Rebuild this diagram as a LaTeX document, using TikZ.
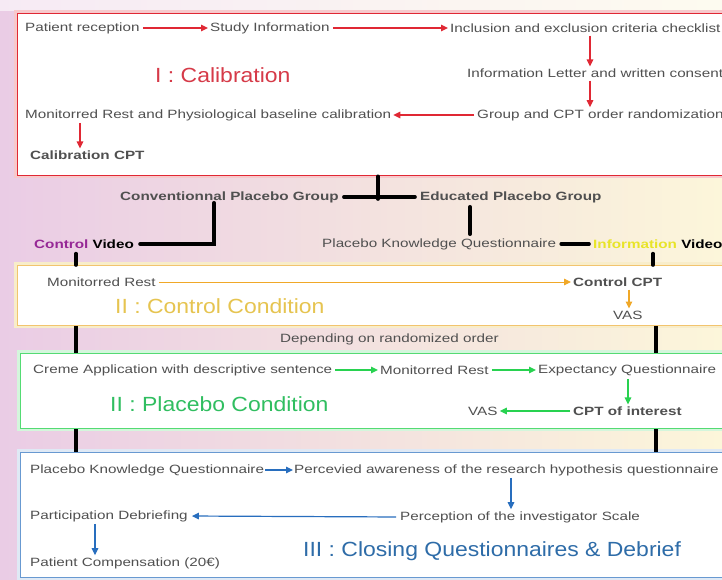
\documentclass[tikz,border=0pt]{standalone}
\usepackage{fontspec}
\setmainfont{Liberation Sans}
\newfontfamily\widesans{Liberation Sans}[FakeStretch=1.27]
\newfontfamily\titlesans{Liberation Sans}[FakeStretch=1.12]
\usetikzlibrary{arrows.meta,calc}
\definecolor{bgleft}{RGB}{234,204,229}
\definecolor{bgright}{RGB}{252,246,218}
\definecolor{txt}{RGB}{80,80,80}
\definecolor{cred}{RGB}{224,40,52}
\definecolor{credt}{RGB}{214,58,72}
\definecolor{corange}{RGB}{240,168,40}
\definecolor{corangeb}{RGB}{242,196,110}
\definecolor{cyellowt}{RGB}{230,196,80}
\definecolor{cgreen}{RGB}{40,210,80}
\definecolor{cgreent}{RGB}{48,190,96}
\definecolor{cblue}{RGB}{40,110,190}
\definecolor{cbluet}{RGB}{46,108,168}
\definecolor{cpurple}{RGB}{150,40,150}
\definecolor{cinfo}{RGB}{232,228,40}
\tikzset{
  lbl/.style={anchor=west, inner sep=0pt, text=txt, font=\widesans\fontsize{12}{14}\selectfont},
  blbl/.style={lbl, font=\widesans\fontsize{12}{14}\selectfont\bfseries},
  ttl/.style={anchor=west, inner sep=0pt, font=\titlesans\fontsize{20.5}{24}\selectfont},
  panel/.style={draw, fill=white, anchor=north west, inner sep=0pt, line width=1.3pt},
  redarr/.style={draw=cred, line width=1.3pt, -{Triangle[length=7pt,width=6.5pt]}, shorten <=3pt, shorten >=2pt},
  orarr/.style={draw=corange, line width=0.9pt, -{Triangle[length=7pt,width=6.5pt]}, shorten <=3pt, shorten >=2pt},
  grarr/.style={draw=cgreen, line width=1.4pt, -{Triangle[length=7pt,width=6.5pt]}, shorten <=3pt, shorten >=2pt},
  blarr/.style={draw=cblue, line width=1.2pt, -{Triangle[length=7pt,width=6.5pt]}, shorten <=2pt, shorten >=2pt},
  link/.style={draw=black, line width=3.6pt, line cap=round},
}
\begin{document}
\begin{tikzpicture}[x=1pt,y=-1pt]
\useasboundingbox (0,0) rectangle (722,580);
\fill[left color=bgleft, right color=bgright] (0,0) rectangle (722,580);
\fill[white, opacity=0.6] (0,0) rectangle (722,11);

% ---- Panel I : Calibration
\fill[cred!25] (14,10) rectangle (745,178);
\node[panel, draw=cred, minimum width=728pt, minimum height=162pt] (b1) at (17,13) {};
\node[ttl, text=credt] at (155,75) {I : Calibration};
\node[lbl] (pr)  at (25,28)  {Patient reception};
\node[lbl] (si)  at (210,28) {Study Information};
\node[lbl] (inc) at (450,28) {Inclusion and exclusion criteria checklist};
\node[lbl] (il)  at (467,73) {Information Letter and written consent};
\node[lbl] (gr)  at (477,115) {Group and CPT order randomization};
\node[lbl] (mr1) at (25,115) {Monitorred Rest and Physiological baseline calibration};
\node[blbl] (cc) at (30,155) {Calibration CPT};
\draw[redarr] (pr.east) -- (si.west);
\draw[redarr] (si.east) -- (inc.west);
\draw[redarr] (inc.south -| 590,0) -- (il.north -| 590,0);
\draw[redarr] (il.south -| 590,0) -- (gr.north -| 590,0);
\draw[redarr] (gr.west) -- (mr1.east);
\draw[redarr, shorten <=2pt] (mr1.south -| 80,0) -- (cc.north -| 80,0);

% ---- Group allocation
\node[blbl] (conv) at (120,197) {Conventionnal Placebo Group};
\node[blbl] (edu)  at (420,197) {Educated Placebo Group};
\node[blbl, text=black] (cv) at (34,244) {\textcolor{cpurple}{Control} Video};
\node[lbl] (pkq) at (322,244) {Placebo Knowledge Questionnaire};
\node[blbl, text=black] (iv) at (593,244) {\textcolor{cinfo}{Information} Video};
\coordinate (tj) at (378,199);
\draw[link, shorten <=5pt, shorten >=5pt] (conv.east) -- (edu.west);
\draw[link] (b1.south -| tj) -- (tj);
\draw[link, shorten >=6pt] (conv.south -| 214,0) |- (cv.east);
\draw[link, shorten <=4pt, shorten >=4pt] (edu.south -| 470,0) -- (pkq.north -| 470,0);
\draw[link, shorten <=5pt, shorten >=4pt] (pkq.east) -- (iv.west);

% ---- Panel II : Control Condition
\fill[cyellowt!30] (14,262) rectangle (745,328);
\node[panel, draw=corangeb, minimum width=728pt, minimum height=60pt] (b2) at (17,265) {};
\node[ttl, text=cyellowt] at (115,306) {II : Control Condition};
\node[lbl] (mr2) at (47,282) {Monitorred Rest};
\node[blbl] (ccpt) at (573,282) {Control CPT};
\node[lbl] (vas1) at (613,315) {VAS};
\draw[orarr] (mr2.east) -- (ccpt.west);
\draw[orarr, line width=1.2pt] (ccpt.south -| 629,0) -- (vas1.north -| 629,0);
\draw[link, shorten <=5pt] (cv.south -| 76,0) -- (b2.north -| 76,0);
\draw[link, shorten <=5pt] (iv.south -| 653,0) -- (b2.north -| 653,0);

\node[lbl] (dep) at (280,339) {Depending on randomized order};

% ---- Panel II : Placebo Condition
\fill[cgreen!20] (17,350) rectangle (745,431);
\node[panel, draw=cgreen!80, minimum width=725pt, minimum height=75pt] (b3) at (20,353) {};
\node[ttl, text=cgreent] at (110,404) {II : Placebo Condition};
\node[lbl] (cre) at (33,370) {Creme Application with descriptive sentence};
\node[lbl] (mr3) at (380,370) {Monitorred Rest};
\node[lbl] (eq)  at (538,370) {Expectancy Questionnaire};
\node[blbl] (cpti) at (573,411) {CPT of interest};
\node[lbl] (vas2) at (468,411) {VAS};
\draw[grarr] (cre.east) -- (mr3.west);
\draw[grarr] (mr3.east) -- (eq.west);
\draw[grarr] (eq.south -| 628,0) -- (cpti.north -| 628,0);
\draw[grarr] (cpti.west) -- (vas2.east);
\draw[link, line cap=butt] (b2.south -| 76,0) -- (b3.north -| 76,0);
\draw[link, line cap=butt] (b2.south -| 656,0) -- (b3.north -| 656,0);

% ---- Panel III : Closing Questionnaires & Debrief
\fill[cblue!15] (17,449) rectangle (745,580);
\node[panel, draw=cblue!70, minimum width=725pt, minimum height=125pt] (b4) at (20,452) {};
\node[ttl, text=cbluet] at (303,551) {III : Closing Questionnaires \& Debrief};
\node[lbl] (pkq2) at (30,470) {Placebo Knowledge Questionnaire};
\node[lbl] (pa)   at (294,470) {Percevied awareness of the research hypothesis questionnaire};
\node[lbl] (pis)  at (400,517) {Perception of the investigator Scale};
\node[lbl] (pd)   at (30,516) {Participation Debriefing};
\node[lbl] (pc)   at (30,563) {Patient Compensation (20€)};
\draw[blarr, shorten <=1pt, shorten >=1pt] (pkq2.east) -- (pa.west);
\draw[blarr] (pa.south -| 511,0) -- (pis.north -| 511,0);
\draw[blarr, shorten <=4pt, shorten >=4pt] (pis.west) -- (pd.east);
\draw[blarr] (pd.south -| 95,0) -- (pc.north -| 95,0);
\draw[link, line cap=butt] (b3.south -| 76,0) -- (b4.north -| 76,0);
\draw[link, line cap=butt] (b3.south -| 656,0) -- (b4.north -| 656,0);
\end{tikzpicture}
\end{document}
